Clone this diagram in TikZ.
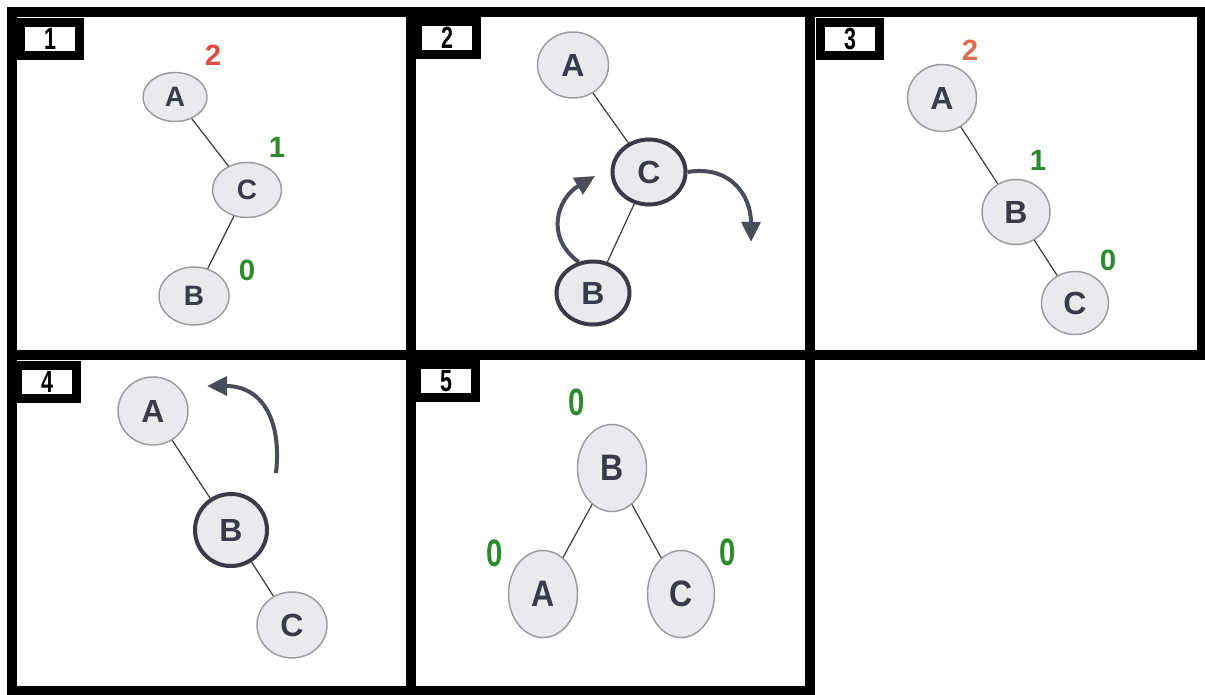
\documentclass[tikz,border=0pt]{standalone}
\usepackage{fontspec}
\usepackage{graphicx}
\setmainfont{Liberation Sans}
\usetikzlibrary{shapes.geometric,arrows.meta,shadows}

\definecolor{nodefill}{HTML}{E9E9EE}
\definecolor{nodeedge}{HTML}{9C9C9C}
\definecolor{boldedge}{HTML}{3A3B45}
\definecolor{lettercol}{HTML}{3A3B48}
\definecolor{linkcol}{HTML}{3C3C3C}
\definecolor{arrowcol}{HTML}{4A4C58}
\definecolor{balgreen}{HTML}{2C8A2C}
\definecolor{balred}{HTML}{E04A40}
\definecolor{balsalmon}{HTML}{DC6E50}

\begin{document}
\begin{tikzpicture}[x=0.75pt,y=-0.75pt,
  frame/.style={draw=black,line width=7.5pt},
  tagbox/.style={draw=black,fill=white,line width=6.75pt,inner sep=0pt,
    minimum width=59*0.75pt,minimum height=33*0.75pt,
    font=\bfseries\fontsize{23}{23}\selectfont},
  sz/.style 2 args={minimum width=#1*0.75pt,minimum height=#2*0.75pt},
  tnode/.style={ellipse,draw=nodeedge,line width=1.1pt,fill=nodefill,
    inner sep=0pt,text=lettercol,font=\bfseries\fontsize{24}{24}\selectfont},
  small/.style={font=\bfseries\fontsize{21}{21}\selectfont},
  heavy/.style={draw=boldedge,line width=3pt},
  shade/.style={drop shadow={opacity=0.35,shadow xshift=0pt,shadow yshift=-1.5pt}},
  link/.style={draw=linkcol,line width=0.9pt},
  bal/.style={font=\bfseries\fontsize{22}{22}\selectfont,inner sep=0pt},
  turn/.style={draw=arrowcol,line width=3pt,
    -{Triangle[length=15pt,width=14pt]}}
]
\useasboundingbox (0,0) rectangle (1205,695);
\fill[white] (0,0) rectangle (1205,695);

% panel frames
\draw[frame] (12,12) rectangle (411,355);
\draw[frame] (411,12) rectangle (810,355);
\draw[frame] (810,12) rectangle (1202,355);
\draw[frame] (12,355) rectangle (411,691);
\draw[frame] (411,355) rectangle (810,691);

% step numbers
\node[tagbox] (t1) at (50,39) {\scalebox{0.7}[1]{1}};
\node[tagbox] (t2) at (447,38) {\scalebox{0.7}[1]{2}};
\node[tagbox] (t3) at (850,39) {\scalebox{0.7}[1]{3}};
\node[tagbox] (t4) at (47,382) {\scalebox{0.7}[1]{4}};
\node[tagbox] (t5) at (446,381) {\scalebox{0.7}[1]{5}};

% step 1
\node[tnode,small,sz={64}{49}] (a1) at (175,97) {A};
\node[tnode,small,sz={69}{55}] (c1) at (247,190) {C};
\node[tnode,small,sz={70}{58}] (b1) at (194,296) {B};
\draw[link] (a1) -- (c1);
\draw[link] (c1) -- (b1);
\node[bal,text=balred] (n1a) at (213,55) {2};
\node[bal,text=balgreen] (n1c) at (277,147) {1};
\node[bal,text=balgreen] (n1b) at (247,270) {0};

% step 2
\node[tnode,sz={71}{66}] (a2) at (573,65) {A};
\node[tnode,heavy,sz={73}{65}] (c2) at (649,172) {C};
\node[tnode,heavy,sz={73}{63}] (b2) at (593,293) {B};
\draw[link] (a2) -- (c2);
\draw[link] (c2) -- (b2);
\coordinate (up2) at (595,176);
\coordinate (down2) at (751,242);
\draw[turn] (b2.115) .. controls (544,236) and (558,198) .. (up2);
\draw[turn] (c2.east) .. controls (730,165) and (751,195) .. (down2);

% step 3
\node[tnode,sz={69}{67}] (a3) at (942,98) {A};
\node[tnode,sz={68}{65}] (b3) at (1016,212) {B};
\node[tnode,sz={67}{63}] (c3) at (1075,303) {C};
\draw[link] (a3) -- (b3);
\draw[link] (b3) -- (c3);
\node[bal,text=balsalmon] (n3a) at (970,50) {2};
\node[bal,text=balgreen] (n3b) at (1038,160) {1};
\node[bal,text=balgreen] (n3c) at (1108,260) {0};

% step 4
\node[tnode,sz={70}{68}] (a4) at (153,411) {A};
\node[tnode,heavy,shade,sz={72}{72}] (b4) at (231,530) {B};
\node[tnode,sz={70}{66}] (c4) at (292,625) {C};
\draw[link] (a4) -- (b4);
\draw[link] (b4) -- (c4);
\coordinate (from4) at (276,473);
\coordinate (to4) at (207,386);
\draw[turn] (from4) .. controls (282,420) and (262,386) .. (to4);

% step 5
\node[tnode,sz={69}{87}] (b5) at (612,468) {\scalebox{1}[1.15]{B}};
\node[tnode,sz={69}{87}] (a5) at (543,594) {\scalebox{1}[1.15]{A}};
\node[tnode,sz={67}{87}] (c5) at (681,594) {\scalebox{1}[1.15]{C}};
\draw[link] (b5) -- (a5);
\draw[link] (b5) -- (c5);
\node[bal,text=balgreen] (n5b) at (577,402) {\scalebox{1}[1.3]{0}};
\node[bal,text=balgreen] (n5a) at (495,553) {\scalebox{1}[1.3]{0}};
\node[bal,text=balgreen] (n5c) at (728,552) {\scalebox{1}[1.3]{0}};
\end{tikzpicture}
\end{document}
